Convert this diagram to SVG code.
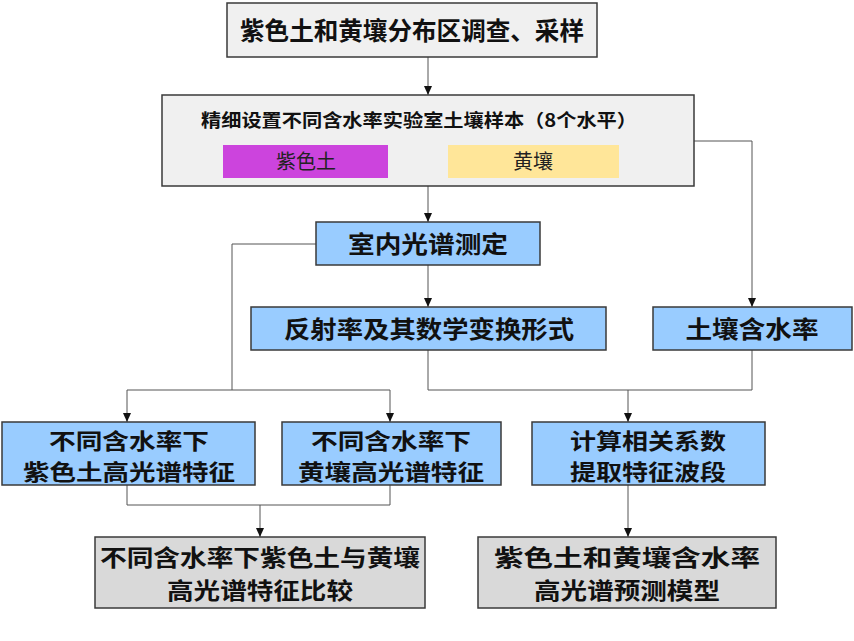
<svg xmlns="http://www.w3.org/2000/svg" width="854" height="641" viewBox="0 0 854 641">
<defs>
<marker id="ah" markerWidth="9" markerHeight="8" refX="9" refY="4" orient="auto" markerUnits="userSpaceOnUse" viewBox="0 0 9 8">
<path d="M0,0 L9,4 L0,8 Z" fill="#111"/>
</marker>
<style>
.box{stroke:#3a3a3a;stroke-width:1.5}
.gray{fill:#f0f0f0}
.blue{fill:#99ccff}
.dgray{fill:#d9d9d9}
.t{font-family:"Noto Sans CJK SC","Noto Sans CJK JP",sans-serif;font-weight:bold;fill:#111;text-anchor:middle}
.n{font-family:"Noto Sans CJK SC","Noto Sans CJK JP",sans-serif;font-weight:normal;fill:#222;text-anchor:middle}
.c{fill:none;stroke:#555;stroke-width:1}
</style>
</defs>
<rect width="854" height="641" fill="#ffffff"/>
<g id="connectors">
<path class="c" d="M428,57 V95" marker-end="url(#ah)"/>
<path class="c" d="M694,141 H752 V307" marker-end="url(#ah)"/>
<path class="c" d="M428,186 V222" marker-end="url(#ah)"/>
<path class="c" d="M428,265 V307" marker-end="url(#ah)"/>
<path class="c" d="M316,244 H232 V390"/>
<path class="c" d="M127,390 H390 V422" marker-end="url(#ah)"/>
<path class="c" d="M127,390 V422" marker-end="url(#ah)"/>
<path class="c" d="M428,350 V390 H752 V350"/>
<path class="c" d="M628,390 V422" marker-end="url(#ah)"/>
<path class="c" d="M127,485 V505 H390 V485"/>
<path class="c" d="M260,505 V537" marker-end="url(#ah)"/>
<path class="c" d="M628,485 V537" marker-end="url(#ah)"/>
</g>
<g id="n1">
<rect class="box gray" x="227" y="3" width="370" height="54"/>
<text class="t" x="412" y="40" font-size="25" textLength="344" lengthAdjust="spacingAndGlyphs">紫色土和黄壤分布区调查、采样</text>
</g>
<g id="n2">
<rect class="box gray" x="162" y="95" width="532" height="91"/>
<text class="t" x="419" y="127" font-size="18" textLength="436" lengthAdjust="spacingAndGlyphs">精细设置不同含水率实验室土壤样本（8个水平）</text>
<rect x="223" y="145" width="165" height="33" fill="#cc44dd"/>
<text class="n" x="306" y="169" font-size="20" fill="#2a0a30">紫色土</text>
<rect x="448" y="145" width="171" height="33" fill="#ffe699"/>
<text class="n" x="533" y="169" font-size="20">黄壤</text>
</g>
<g id="n3">
<rect class="box blue" x="316" y="222" width="224" height="43"/>
<text class="t" x="428" y="253" font-size="24" textLength="160" lengthAdjust="spacingAndGlyphs">室内光谱测定</text>
</g>
<g id="n4">
<rect class="box blue" x="251" y="307" width="355" height="43"/>
<text class="t" x="429" y="338" font-size="24" textLength="290" lengthAdjust="spacingAndGlyphs">反射率及其数学变换形式</text>
</g>
<g id="n5">
<rect class="box blue" x="653" y="307" width="199" height="43"/>
<text class="t" x="752" y="338" font-size="24" textLength="133" lengthAdjust="spacingAndGlyphs">土壤含水率</text>
</g>
<g id="n6">
<rect class="box blue" x="2" y="422" width="253" height="63"/>
<text class="t" x="129" y="449" font-size="22" textLength="160" lengthAdjust="spacingAndGlyphs">不同含水率下</text>
<text class="t" x="129" y="480" font-size="22" textLength="212" lengthAdjust="spacingAndGlyphs">紫色土高光谱特征</text>
</g>
<g id="n7">
<rect class="box blue" x="282" y="422" width="219" height="63"/>
<text class="t" x="391" y="449" font-size="22" textLength="160" lengthAdjust="spacingAndGlyphs">不同含水率下</text>
<text class="t" x="391" y="480" font-size="22" textLength="186" lengthAdjust="spacingAndGlyphs">黄壤高光谱特征</text>
</g>
<g id="n8">
<rect class="box blue" x="532" y="422" width="233" height="63"/>
<text class="t" x="648" y="449" font-size="22" textLength="156" lengthAdjust="spacingAndGlyphs">计算相关系数</text>
<text class="t" x="648" y="480" font-size="22" textLength="156" lengthAdjust="spacingAndGlyphs">提取特征波段</text>
</g>
<g id="n9">
<rect class="box dgray" x="95" y="537" width="330" height="71"/>
<text class="t" x="260" y="566" font-size="22.5" textLength="320" lengthAdjust="spacingAndGlyphs">不同含水率下紫色土与黄壤</text>
<text class="t" x="260" y="599" font-size="22.5" textLength="186" lengthAdjust="spacingAndGlyphs">高光谱特征比较</text>
</g>
<g id="n10">
<rect class="box dgray" x="478" y="537" width="298" height="71"/>
<text class="t" x="627" y="566" font-size="22.5" textLength="266" lengthAdjust="spacingAndGlyphs">紫色土和黄壤含水率</text>
<text class="t" x="627" y="599" font-size="22.5" textLength="186" lengthAdjust="spacingAndGlyphs">高光谱预测模型</text>
</g>
</svg>
